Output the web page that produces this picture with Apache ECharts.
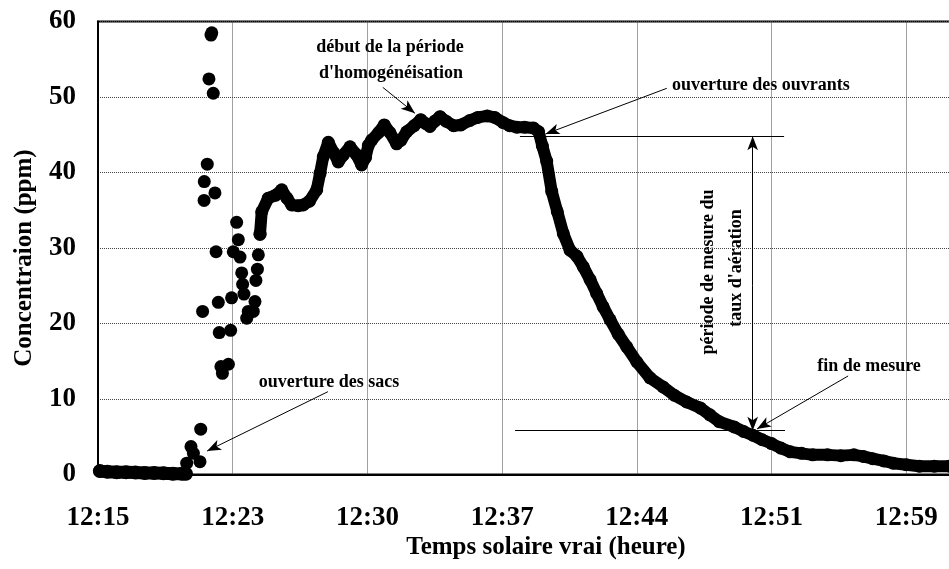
<!DOCTYPE html>
<html>
<head>
<meta charset="utf-8">
<script src="https://cdn.jsdelivr.net/npm/echarts@6/dist/echarts.min.js"></script>
<style>
  html, body { margin: 0; padding: 0; background: #fff; }
  #chart { width: 949px; height: 569px; }
</style>
</head>
<body>
<div id="chart"></div>
<script>
// temps en minutes depuis 12:15, concentration en ppm
const xTickLabels = ["12:15", "12:23", "12:30", "12:37", "12:44", "12:51", "12:59", "13:06"];
const yTicks = [0, 10, 20, 30, 40, 50, 60];

// palier initial avant l'ouverture des sacs
const baseTime = [0.1, 0.5, 1.0, 1.5, 2.0, 2.5, 3.0, 3.5, 4.0, 4.5, 4.7];
const baseConc = [0.45, 0.35, 0.3, 0.3, 0.25, 0.2, 0.2, 0.15, 0.1, 0.1, 0.1];

// points isolés juste après l'ouverture des sacs
const sacsTime = [4.74, 4.97, 5.1, 5.45, 5.49, 5.59, 5.67, 5.68, 5.84, 5.93, 6.04, 6.08, 6.16, 6.25,
  6.31, 6.43, 6.48, 6.57, 6.65, 6.97, 7.09, 7.14, 7.23, 7.41, 7.5, 7.59, 7.68, 7.73, 7.8,
  7.95, 8.03, 8.3, 8.39, 8.44, 8.52, 8.57, 8.66];
const sacsConc = [1.5, 3.7, 2.8, 1.7, 6.0, 21.6, 36.3, 38.8, 41.1, 52.4, 58.2, 58.5, 50.5, 37.3,
  29.5, 22.8, 18.8, 14.3, 13.4, 14.6, 19.1, 23.4, 29.5, 33.4, 31.1, 28.8, 26.7, 25.2, 23.9,
  20.7, 21.6, 21.6, 22.9, 25.7, 27.2, 29.1, 31.8];

// courbe principale (homogénéisation puis décroissance)
const mainTime = [8.66, 8.75, 9.1, 9.5, 9.82, 10.1, 10.35, 10.7, 10.97, 11.3, 11.69, 11.87, 12.04,
  12.31, 12.6, 12.84, 13.1, 13.47, 13.8, 14.09, 14.3, 14.45, 14.63, 15.0, 15.3, 15.6, 15.96,
  16.2, 16.5, 16.9, 17.25, 17.5, 17.74, 18.0, 18.28, 18.6, 19.0, 19.4, 19.88, 20.3, 20.8,
  21.2, 21.66, 22.0, 22.38, 22.8, 23.27, 23.55, 23.75, 23.98, 24.25, 24.55, 24.87, 25.23,
  25.6, 25.94, 26.3, 26.65, 27.0, 27.37, 27.8, 28.26, 28.8, 29.5, 30.2, 30.8, 31.46, 32.2,
  32.7, 33.2, 34.0, 34.5, 35.0, 35.5, 36.0, 36.5, 37.0, 37.6, 38.2, 39.0, 39.7, 40.4, 40.9,
  41.4, 42.0, 42.5, 43.2, 43.9, 44.7, 45.5, 46.5];
const mainConc = [31.9, 34.8, 36.6, 37.0, 37.7, 36.6, 35.7, 35.6, 35.7, 36.2, 37.7, 39.9, 42.1,
  44.0, 42.6, 41.4, 42.3, 43.4, 42.4, 41.0, 42.0, 43.6, 44.3, 45.3, 46.3, 45.3, 43.8,
  44.3, 45.4, 46.2, 47.0, 46.5, 46.1, 46.8, 47.4, 46.8, 46.2, 46.3, 46.9, 47.3, 47.5,
  47.3, 46.6, 46.2, 46.0, 46.0, 45.9, 45.4, 43.5, 41.5, 37.5, 34.8, 31.9, 29.7,
  28.9, 27.5, 25.8, 24.0, 22.2, 20.5, 18.6, 16.9, 14.9, 12.8, 11.6, 10.5, 9.6, 8.8,
  7.9, 7.0, 6.3, 5.7, 5.2, 4.6, 4.1, 3.5, 3.0, 2.8, 2.6, 2.6, 2.5, 2.6, 2.4,
  2.1, 1.8, 1.5, 1.3, 1.1, 1.1, 1.1, 1.1];

const chartDom = document.getElementById("chart");
const chartInstance = echarts.init(chartDom, null, { renderer: "canvas" });

const serif = "'Liberation Serif', 'DejaVu Serif', serif";
const step = 7.2;

const pairs = (xs, ys) => xs.map((x, i) => [x, ys[i]]);

// flèches des annotations, en coordonnées du graphique
const arrow = (a, b) => [
  { coord: a, symbol: "none" },
  { coord: b, symbol: "arrow" },
];
const segment = (a, b) => [
  { coord: a, symbol: "none" },
  { coord: b, symbol: "none" },
];

const annotStyle = { fontFamily: serif, fontWeight: "bold", fontSize: 18, fill: "#000" };
const annot = (text, x, y, align, rotation) => ({
  type: "text",
  x: x,
  y: y,
  rotation: rotation || 0,
  silent: true,
  style: Object.assign({ text: text, align: align || "center", verticalAlign: "middle" }, annotStyle),
});

const option = {
  animation: false,
  backgroundColor: "#fff",
  grid: {
    left: 98,
    top: 21.5,
    bottom: 94.5,
    right: -92,
    show: true,
    borderColor: "#000",
    borderWidth: 2,
    outerBoundsMode: "none",
    containLabel: false,
  },
  xAxis: {
    type: "value",
    min: 0,
    max: step * 7,
    interval: step,
    axisLine: { show: true, onZero: false, lineStyle: { color: "#000", width: 2 } },
    axisTick: { show: false },
    splitLine: { show: true, lineStyle: { color: "#444", type: "dotted", width: 1 } },
    axisLabel: {
      margin: 30,
      color: "#000",
      fontFamily: serif,
      fontWeight: "bold",
      fontSize: 27,
      formatter: (v) => xTickLabels[Math.round(v / step)] || "",
    },
  },
  yAxis: {
    type: "value",
    min: yTicks[0],
    max: yTicks[yTicks.length - 1],
    interval: 10,
    axisLine: { show: true, lineStyle: { color: "#000", width: 2 } },
    axisTick: { show: false },
    splitLine: { show: true, lineStyle: { color: "#444", type: "dotted", width: 1 } },
    axisLabel: {
      margin: 22,
      color: "#000",
      fontFamily: serif,
      fontWeight: "bold",
      fontSize: 27,
    },
  },
  series: [
    {
      type: "line",
      data: pairs(baseTime, baseConc),
      symbol: "circle",
      symbolSize: 14,
      showSymbol: true,
      lineStyle: { color: "#000", width: 13, cap: "round", join: "round" },
      itemStyle: { color: "#000", opacity: 1 },
      silent: true,
      z: 3,
    },
    {
      type: "scatter",
      data: pairs(sacsTime, sacsConc),
      symbol: "circle",
      symbolSize: 13,
      itemStyle: { color: "#000", opacity: 1 },
      silent: true,
      z: 3,
    },
    {
      type: "line",
      data: pairs(mainTime, mainConc),
      symbol: "circle",
      symbolSize: 13,
      showSymbol: true,
      lineStyle: { color: "#000", width: 12, cap: "round", join: "round" },
      itemStyle: { color: "#000", opacity: 1 },
      silent: true,
      z: 3,
    },
    {
      type: "line",
      data: [],
      silent: true,
      z: 4,
      markLine: {
        silent: true,
        animation: false,
        symbolSize: [8, 14],
        label: { show: false },
        lineStyle: { color: "#000", width: 1, type: "solid" },
        emphasis: { disabled: true },
        data: [
          arrow([15.22, 51.28], [16.94, 47.84]),
          arrow([30.4, 51.15], [23.92, 45.1]),
          segment([22.55, 44.8], [36.67, 44.8]),
          segment([22.29, 5.8], [36.72, 5.8]),
          arrow([34.99, 25.0], [34.99, 44.8]),
          arrow([34.99, 25.0], [34.99, 5.8]),
          arrow([40.09, 13.05], [35.22, 6.03]),
          arrow([12.29, 10.97], [5.83, 3.11]),
        ],
      },
    },
  ],
  graphic: [
    annot("début de la période", 390, 47),
    annot("d'homogénéisation", 391, 73),
    annot("ouverture des ouvrants", 672, 85, "left"),
    annot("fin de mesure", 869, 366),
    annot("ouverture des sacs", 329, 382),
    annot("période de mesure du", 708, 272, "center", Math.PI / 2),
    annot("taux d'aération", 736, 268, "center", Math.PI / 2),
    {
      type: "text", x: 546, y: 548, silent: true,
      style: { text: "Temps solaire vrai (heure)", align: "center", verticalAlign: "middle",
        fontFamily: serif, fontWeight: "bold", fontSize: 25, fill: "#000" },
    },
    {
      type: "text", x: 25, y: 258, rotation: Math.PI / 2, silent: true,
      style: { text: "Concentraion (ppm)", align: "center", verticalAlign: "middle",
        fontFamily: serif, fontWeight: "bold", fontSize: 25, fill: "#000" },
    },
  ],
};

chartInstance.setOption(option);
</script>
</body>
</html>
